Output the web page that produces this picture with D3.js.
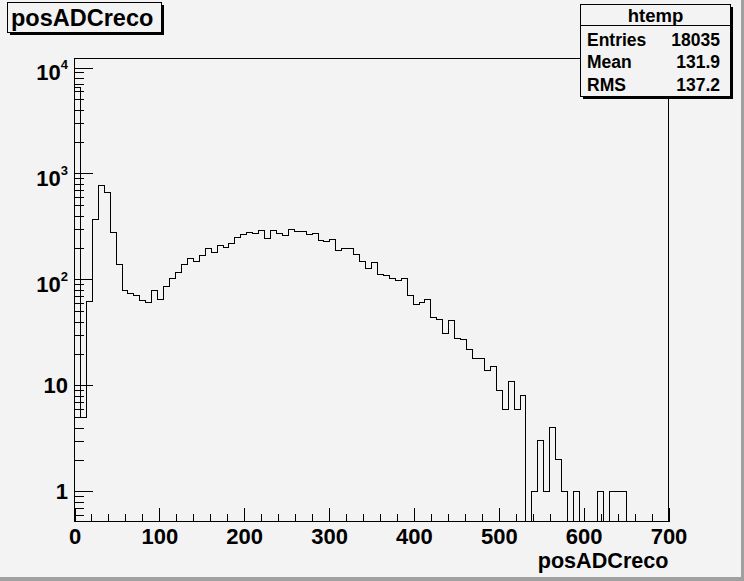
<html>
  <head>
    <title>posADCreco</title>
    <style>
      body { margin: 0; background: #f3f3f3; }
      svg { display: block; }
    </style>
  </head>
  <body>
    <script src="https://d3js.org/d3.v7.min.js"></script>
    <script>
      (function() {
        // Histogram: 100 bins from 0 to 700, counts
        var X_LIMITS = [0, 700];
        var COUNTS = [
          6500, 5, 62, 368, 771, 662, 279, 139, 79, 74,
          70, 64, 61, 79, 65, 86, 102, 116, 139, 158,
          148, 168, 196, 180, 209, 200, 219, 249, 266, 278,
          272, 290, 244, 290, 272, 260, 296, 284, 284, 267,
          272, 233, 228, 238, 188, 196, 196, 173, 148, 127,
          145, 111, 109, 102, 98, 102, 71, 58, 61, 65,
          44, 42, 31, 41, 28, 27, 22, 18, 18, 14,
          15, 9, 6, 11, 6, 8, 0, 1, 3, 1,
          4, 2, 1, 0, 1, 0, 0, 0, 1, 0,
          1, 1, 1, 0, 0, 0, 0, 0, 0, 0
        ];

        // Axis settings
        var Y_LIMITS = [0.521, 12160];
        var X_MAJOR = [0, 100, 200, 300, 400, 500, 600, 700];
        var Y_MAJOR = [1, 10, 100, 1000, 10000];
        var Y_LABEL_BASE = ['1', '10', '10', '10', '10'];
        var Y_LABEL_EXP = ['', '', '2', '3', '4'];

        // Title and statistics box
        var TITLE = 'posADCreco';
        var X_TITLE = 'posADCreco';
        var STAT_TITLE = 'htemp';
        var STAT_NAMES = ['Entries', 'Mean', 'RMS'];
        var STAT_VALUES = ['18035', '131.9', '137.2'];

        var WIDTH = 744, HEIGHT = 581;
        var LEFT = 74.5, RIGHT = 668.5, TOP = 58.5, BOTTOM = 521.5;
        var BG = '#f3f3f3';
        var FONT = "'Liberation Sans', Arial, Helvetica, sans-serif";

        var svg = d3.select('body')
          .append('svg')
          .attr('width', WIDTH)
          .attr('height', HEIGHT)
          .attr('shape-rendering', 'crispEdges');

        // Canvas with grey bevel on the right and bottom
        svg.append('rect')
          .attr('width', WIDTH).attr('height', HEIGHT)
          .attr('fill', '#a0a0a0');
        svg.append('rect')
          .attr('width', WIDTH - 3).attr('height', HEIGHT - 4)
          .attr('fill', BG);

        var x = d3.scaleLinear().domain(X_LIMITS).range([LEFT, RIGHT]);
        var y = d3.scaleLog().domain(Y_LIMITS).range([BOTTOM, TOP]);

        // Frame
        svg.append('rect')
          .attr('x', LEFT).attr('y', TOP)
          .attr('width', RIGHT - LEFT).attr('height', BOTTOM - TOP)
          .attr('fill', 'none')
          .attr('stroke', '#000');

        // X axis, ticks pointing inside
        var xMinor = d3.range(X_LIMITS[0], X_LIMITS[1] + 1, 20)
          .filter(function(v) { return X_MAJOR.indexOf(v) < 0; });

        svg.append('g')
          .attr('transform', 'translate(0,' + BOTTOM + ')')
          .call(d3.axisBottom(x).tickValues(xMinor).tickSize(-8).tickFormat(''))
          .call(function(g) { g.select('.domain').remove(); });

        var xAxis = svg.append('g')
          .attr('transform', 'translate(0,' + BOTTOM + ')')
          .call(d3.axisBottom(x).tickValues(X_MAJOR).tickSize(-14).tickFormat(d3.format('d')))
          .call(function(g) { g.select('.domain').remove(); });

        xAxis.selectAll('line').attr('stroke', '#000');
        xAxis.selectAll('text')
          .attr('y', 22.5)
          .attr('dy', 0)
          .attr('font-family', FONT)
          .attr('font-weight', 'bold')
          .attr('font-size', '22px')
          .attr('fill', '#000');

        // Y axis (log), ticks pointing inside
        var yMinor = y.ticks().filter(function(v) {
          return Y_MAJOR.indexOf(v) < 0 && v > Y_LIMITS[0] && v < Y_LIMITS[1];
        });

        svg.append('g')
          .attr('transform', 'translate(' + LEFT + ',0)')
          .call(d3.axisLeft(y).tickValues(yMinor).tickSize(-9).tickFormat(''))
          .call(function(g) { g.select('.domain').remove(); });

        var yAxis = svg.append('g')
          .attr('transform', 'translate(' + LEFT + ',0)')
          .call(d3.axisLeft(y).tickValues(Y_MAJOR).tickSize(-18).tickFormat(''))
          .call(function(g) { g.select('.domain').remove(); });

        yAxis.selectAll('line').attr('stroke', '#000');

        // Y labels: 1, 10, then 10 with exponent
        var yLabels = svg.append('g')
          .selectAll('text')
          .data(Y_MAJOR)
          .join('text')
          .attr('x', 68)
          .attr('y', function(d, i) { return y(d) + (Y_LABEL_EXP[i] ? 12.5 : 7.8); })
          .attr('text-anchor', 'end')
          .attr('font-family', FONT)
          .attr('font-weight', 'bold')
          .attr('font-size', '22px')
          .attr('fill', '#000');

        yLabels.append('tspan').text(function(d, i) { return Y_LABEL_BASE[i]; });
        yLabels.append('tspan')
          .attr('font-size', '13px')
          .attr('dy', -11)
          .text(function(d, i) { return Y_LABEL_EXP[i]; });

        // X axis title
        svg.append('text')
          .text(X_TITLE)
          .attr('x', RIGHT)
          .attr('y', 568)
          .attr('text-anchor', 'end')
          .attr('font-family', FONT)
          .attr('font-weight', 'bold')
          .attr('font-size', '21.6px')
          .attr('fill', '#000');

        // Histogram outline
        var binWidth = (X_LIMITS[1] - X_LIMITS[0]) / COUNTS.length;
        var level = function(c) { return c > 0 ? y(c) : BOTTOM; };
        var points = [[x(X_LIMITS[0]), BOTTOM]];
        COUNTS.forEach(function(c, i) {
          points.push([x(X_LIMITS[0] + i * binWidth), level(c)]);
        });
        points.push([x(X_LIMITS[1]), level(COUNTS[COUNTS.length - 1])]);
        points.push([x(X_LIMITS[1]), BOTTOM]);

        svg.append('path')
          .datum(points)
          .attr('d', d3.line().curve(d3.curveStepAfter))
          .attr('fill', 'none')
          .attr('stroke', '#000')
          .attr('stroke-width', 1);

        // Box with black shadow
        function shadowBox(x0, y0, w, h) {
          svg.append('rect')
            .attr('x', x0 + 2).attr('y', y0 + 2)
            .attr('width', w).attr('height', h)
            .attr('fill', '#000');
          svg.append('rect')
            .attr('x', x0).attr('y', y0)
            .attr('width', w).attr('height', h)
            .attr('fill', BG)
            .attr('stroke', '#000');
        }

        // Title box
        shadowBox(7.5, 2.5, 154, 30);
        svg.append('text')
          .text(TITLE)
          .attr('x', 11)
          .attr('y', 26)
          .attr('font-family', FONT)
          .attr('font-weight', 'bold')
          .attr('font-size', '23.5px')
          .attr('fill', '#000');

        // Statistics box
        shadowBox(580.5, 4.5, 150, 92);
        svg.append('line')
          .attr('x1', 580.5).attr('x2', 730.5)
          .attr('y1', 25.5).attr('y2', 25.5)
          .attr('stroke', '#000');

        svg.append('text')
          .text(STAT_TITLE)
          .attr('x', 655.5)
          .attr('y', 21.5)
          .attr('text-anchor', 'middle')
          .attr('font-family', FONT)
          .attr('font-weight', 'bold')
          .attr('font-size', '18.5px')
          .attr('fill', '#000');

        var rowY = [45.7, 67.7, 90.5];
        STAT_NAMES.forEach(function(name, i) {
          svg.append('text')
            .text(name)
            .attr('x', 587)
            .attr('y', rowY[i])
            .attr('font-family', FONT)
            .attr('font-weight', 'bold')
            .attr('font-size', '17.5px')
            .attr('fill', '#000');
          svg.append('text')
            .text(STAT_VALUES[i])
            .attr('x', 720)
            .attr('y', rowY[i])
            .attr('text-anchor', 'end')
            .attr('font-family', FONT)
            .attr('font-weight', 'bold')
            .attr('font-size', '17.5px')
            .attr('fill', '#000');
        });
      })();
    </script>
  </body>
</html>
